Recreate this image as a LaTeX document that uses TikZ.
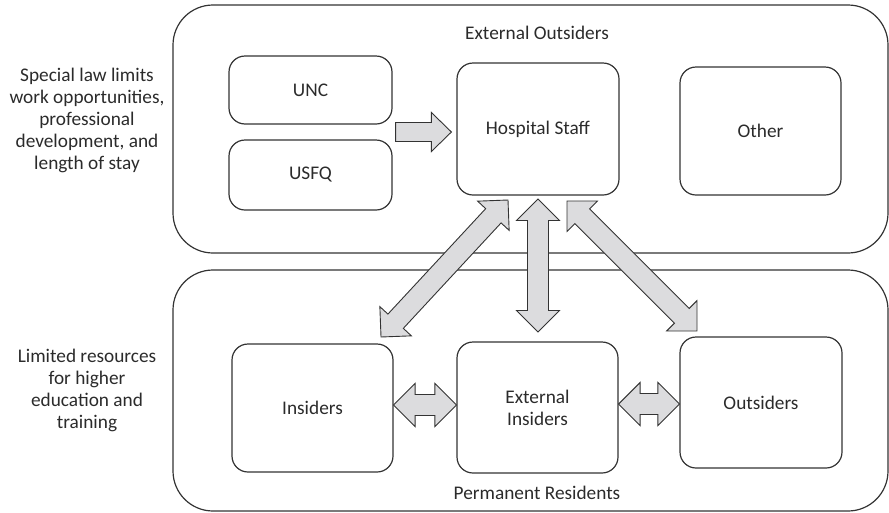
\documentclass[tikz,border=0pt]{standalone}
\usepackage{fontspec}
\setmainfont{Carlito}
\usetikzlibrary{calc}

\definecolor{linegray}{HTML}{333333}
\definecolor{arrowfill}{HTML}{DCDCDE}
\definecolor{txtgray}{HTML}{2B2B2B}

% Block arrow sizes (pt): head length, head half-width, shaft half-width
\newcommand\arrhead{21.5}
\newcommand\arrhalf{21.5}
\newcommand\arrshaft{10.5}

% Two-headed block arrow from coordinate #1 to coordinate #2
\newcommand\blockdouble[2]{%
  \pgfpointdiff{\pgfpointanchor{#1}{center}}{\pgfpointanchor{#2}{center}}%
  \pgfgetlastxy{\bdx}{\bdy}%
  \pgfmathsetmacro\bang{atan2(\bdy,\bdx)}%
  \pgfmathsetmacro\blen{veclen(\bdx,\bdy)}%
  \begin{scope}[shift={(#1)}, rotate=\bang, y=1pt]
    \draw[blockarrow] (0,0) -- (\arrhead,\arrhalf) -- (\arrhead,\arrshaft)
      -- (\blen-\arrhead,\arrshaft) -- (\blen-\arrhead,\arrhalf) -- (\blen,0)
      -- (\blen-\arrhead,-\arrhalf) -- (\blen-\arrhead,-\arrshaft)
      -- (\arrhead,-\arrshaft) -- (\arrhead,-\arrhalf) -- cycle;
  \end{scope}}

% One-headed block arrow from coordinate #1 to coordinate #2
\newcommand\blocksingle[2]{%
  \pgfpointdiff{\pgfpointanchor{#1}{center}}{\pgfpointanchor{#2}{center}}%
  \pgfgetlastxy{\bdx}{\bdy}%
  \pgfmathsetmacro\bang{atan2(\bdy,\bdx)}%
  \pgfmathsetmacro\blen{veclen(\bdx,\bdy)}%
  \begin{scope}[shift={(#1)}, rotate=\bang, y=1pt]
    \draw[blockarrow] (0,\arrshaft) -- (\blen-\arrhead,\arrshaft)
      -- (\blen-\arrhead,\arrhalf) -- (\blen,0) -- (\blen-\arrhead,-\arrhalf)
      -- (\blen-\arrhead,-\arrshaft) -- (0,-\arrshaft) -- cycle;
  \end{scope}}

\begin{document}
\begin{tikzpicture}[x=1pt, y=-1pt,
  font=\fontsize{19.3}{22}\selectfont,
  every node/.style={text=txtgray},
  group/.style={draw=linegray, line width=1.2pt, rounded corners=40pt,
    rectangle, inner sep=0pt},
  unit/.style={draw=linegray, line width=1.2pt, rounded corners=16pt,
    rectangle, inner sep=0pt, align=center},
  blockarrow/.style={draw=linegray, fill=arrowfill, line width=0.9pt,
    line join=miter},
  note/.style={align=center, inner sep=0pt}]

\useasboundingbox (0,0) rectangle (889,512);

% the two population groups
\node[group, minimum width=715pt, minimum height=248pt] (outgrp) at (530.5,129) {};
\node[group, minimum width=715pt, minimum height=241pt] (resgrp) at (530.5,390.5) {};
\node (outlbl) at (537,33) {External Outsiders};
\node (reslbl) at (537,493) {Permanent Residents};

% side notes
\node[note] (lawnote) at (87,120) {Special law limits\\work opportunities,\\professional\\development, and\\length of stay};
\node[note] (resnote) at (87,390.5) {Limited resources\\for higher\\education and\\training};

% units of the upper group
\node[unit, minimum width=163pt, minimum height=68pt] (unc) at (310.5,90) {UNC};
\node[unit, minimum width=163pt, minimum height=70pt] (usfq) at (310.5,175) {USFQ};
\node[unit, minimum width=162pt, minimum height=132pt] (hs) at (538,129) {Hospital Staff};
\node[unit, minimum width=161pt, minimum height=128pt] (other) at (760.5,131) {Other};

% units of the lower group
\node[unit, minimum width=161pt, minimum height=128pt] (ins) at (312.5,408) {Insiders};
\node[unit, minimum width=161pt, minimum height=131pt] (extins) at (537.5,407.5) {External\\Insiders};
\node[unit, minimum width=162pt, minimum height=131pt] (outs) at (761,402.5) {Outsiders};

% arrow end points
\coordinate (uncA) at ($(unc.south east)!0.5!(usfq.north east)+(3,0)$);
\coordinate (hsA) at ($(uncA -| hs.west)+(-5,0)$);
\coordinate (hsL) at (508,200);
\coordinate (hsC) at (538,199);
\coordinate (hsR) at (567,201);
\coordinate (insT) at (381,337);
\coordinate (extT) at (538,332);
\coordinate (outT) at (697,331);
\coordinate (insE) at (ins.east |- 0,405);
\coordinate (extW) at (extins.west |- 0,405);
\coordinate (extE) at (extins.east |- 0,404);
\coordinate (outW) at (outs.west |- 0,404);

% connectors
\renewcommand\arrhead{20}\renewcommand\arrhalf{19.5}\renewcommand\arrshaft{9.5}
\blocksingle{uncA}{hsA}
\renewcommand\arrhead{21.5}\renewcommand\arrhalf{21.5}\renewcommand\arrshaft{10.5}
\blockdouble{hsL}{insT}
\blockdouble{hsC}{extT}
\blockdouble{hsR}{outT}
\blockdouble{insE}{extW}
\blockdouble{extE}{outW}
\end{tikzpicture}
\end{document}
